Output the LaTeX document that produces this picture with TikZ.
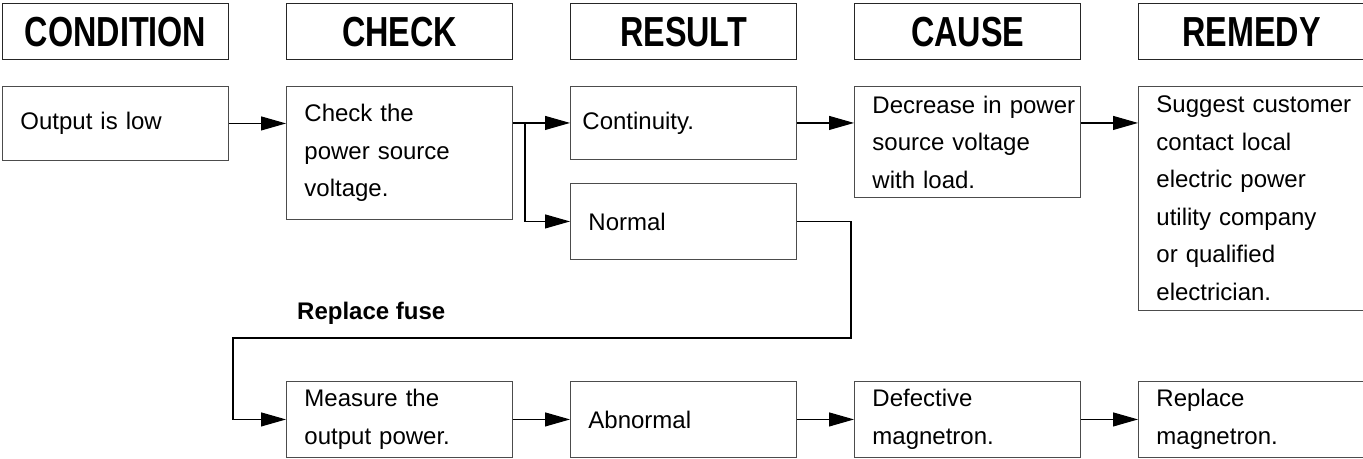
\documentclass[tikz,border=0pt]{standalone}
\usepackage{fontspec}
\setmainfont{Liberation Sans}
\newfontfamily\headfont[FakeStretch=0.77]{Liberation Sans}
\usetikzlibrary{arrows.meta,positioning}
\tikzset{
  head box/.style={draw=black!85,line width=1.2pt,minimum width=226pt,minimum height=56pt,
    anchor=north west,inner sep=0pt,font={\headfont\fontsize{42}{44}\selectfont\bfseries}},
  chart box/.style={draw=black!70,line width=.9pt,minimum width=226pt,anchor=north west,
    inner xsep=5pt,inner ysep=0pt,text width=216pt,
    font={\fontsize{24}{37.5}\selectfont},
    execute at begin node={\parindent=0pt\leftskip=13pt\rightskip=0pt plus 1fil
      \hyphenpenalty=10000\relax}},
  flow arrow/.style={line width=1.1pt,-{Triangle[length=25pt,width=14pt]}},
  fuse label/.style={anchor=west,inner sep=0pt,font={\fontsize{24}{28}\selectfont\bfseries}}
}

\begin{document}
\begin{tikzpicture}[x=1pt,y=-1pt,line join=miter]
  \useasboundingbox (0,0) rectangle (1363,458);

  % column headings
  \foreach \x/\n/\t in {2/hcond/CONDITION,286/hcheck/CHECK,570/hres/RESULT,
                        854/hcause/CAUSE,1138/hrem/REMEDY}
    {\node[head box] (\n) at (\x,3) {\t};}

  % upper row
  \node[chart box,minimum height=74pt]  (low)    at (2,86)    {Output is low};
  \node[chart box,minimum height=133pt] (volt)   at (286,86)  {Check the\\power source\\voltage.};
  \node[chart box,minimum height=73pt]  (cont)   at (570,86)  {\hspace*{-6pt}Continuity.};
  \node[chart box,minimum height=76pt]  (normal) at (570,183) {Normal};
  \node[chart box,minimum height=111pt] (drop)   at (854,86)  {Decrease in power\\source voltage\\with load.};
  \node[chart box,minimum height=224pt] (utility) at (1138,86)
    {Suggest customer\\contact local\\electric power\\utility company\\or qualified\\electrician.};

  % lower row
  \node[chart box,minimum height=76pt] (measure) at (286,381)  {Measure the\\output power.};
  \node[chart box,minimum height=76pt] (abnorm)  at (570,381)  {Abnormal};
  \node[chart box,minimum height=76pt] (magnet)  at (854,381)  {Defective\\magnetron.};
  \node[chart box,minimum height=76pt] (replace) at (1138,381) {Replace\\magnetron.};

  \node[fuse label] (fuse) at (297,313) {Replace fuse};

  \coordinate (split) at (525,0);
  \coordinate (turnR) at (851,338);
  \coordinate (turnL) at (233,338);

  \draw[flow arrow] (low.east) -- (low.east -| volt.west);
  \draw[flow arrow] (volt.east |- cont.west) -- (cont.west);
  \draw[flow arrow] (split |- cont.west) |- (normal.west);
  \draw[flow arrow] (cont.east) -- (cont.east -| drop.west);
  \draw[flow arrow] (cont.east -| drop.east) -- (cont.east -| utility.west);
  \draw[flow arrow] (normal.east) -| (turnR) -- (turnL) |- (measure.west);
  \draw[flow arrow] (measure) -- (abnorm);
  \draw[flow arrow] (abnorm) -- (magnet);
  \draw[flow arrow] (magnet) -- (replace);
\end{tikzpicture}
\end{document}
